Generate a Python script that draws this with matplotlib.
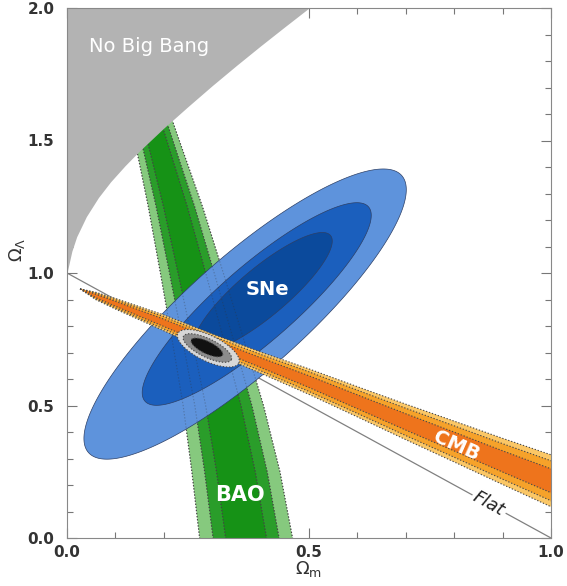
import numpy as np
import matplotlib
matplotlib.use("Agg")
import matplotlib.pyplot as plt
from matplotlib.ticker import MultipleLocator

# ---------------- data ----------------
# "No Big Bang" boundary (Omega_m, Omega_Lambda)
nbb_om = [0.0, 0.01, 0.02, 0.04, 0.065, 0.09, 0.12, 0.15, 0.20, 0.25, 0.30, 0.35, 0.40, 0.45, 0.50]
nbb_ol = [1.0, 1.082, 1.137, 1.213, 1.285, 1.344, 1.405, 1.461, 1.547, 1.628, 1.707, 1.783, 1.857, 1.929, 2.0]

# SNe confidence ellipses (outer 99.7%, 95%, 68%)
sne_cx = [0.368, 0.392, 0.405]
sne_cy = [0.845, 0.883, 0.928]
sne_a = [0.432, 0.306, 0.182]      # semi-major (in Omega_m units)
sne_b = [0.119, 0.0785, 0.0500]    # semi-minor (in Omega_m units)
sne_ang = [41.5, 41.0, 40.0]       # on-screen angle, degrees
sne_colors = ["#5e93dc", "#1b5fbd", "#0b4a9c"]

# BAO band: centre and half width (in Omega_m) as function of Omega_Lambda
bao_ol = [-0.05, 0.0, 0.25, 0.5, 0.75, 1.0, 1.25, 1.5, 1.8]
bao_center = [0.375, 0.370, 0.349, 0.323, 0.291, 0.258, 0.224, 0.186, 0.140]
bao_half = [0.097, 0.096, 0.091, 0.083, 0.074, 0.065, 0.056, 0.046, 0.035]
bao_levels = [1.0, 0.71, 0.44]
bao_colors = ["#86c97e", "#2a9d2a", "#169216"]

# CMB band: centre and half height (in Omega_Lambda) as function of Omega_m
cmb_om = [0.027, 0.06, 0.10, 0.20, 0.30, 0.40, 0.50, 0.60, 0.70, 0.80, 0.90, 1.00, 1.05]
cmb_center = [0.940, 0.913, 0.884, 0.812, 0.735, 0.662, 0.590, 0.514, 0.438, 0.364, 0.289, 0.216, 0.178]
cmb_half = [0.0, 0.014, 0.020, 0.030, 0.035, 0.040, 0.048, 0.057, 0.067, 0.077, 0.087, 0.098, 0.103]
cmb_levels = [1.0, 0.77, 0.46]
cmb_colors = ["#fbc766", "#f6a22a", "#ee741c"]

# Combined constraints (99.7%, 95%, 68%)
comb_cx = [0.292, 0.290, 0.289]
comb_cy = [0.716, 0.717, 0.719]
comb_a = [0.070, 0.055, 0.036]
comb_b = [0.0265, 0.019, 0.0125]
comb_ang = [-26.0, -26.0, -26.0]
comb_colors = ["#d8d8d8", "#8c8c8c", "#111111"]

# Flat universe line
flat_om = [0.0, 1.0]
flat_ol = [1.0, 0.0]

xticks = [0.0, 0.5, 1.0]
yticks = [0.0, 0.5, 1.0, 1.5, 2.0]

# ---------------- figure ----------------
W, H = 567, 586
fig = plt.figure(figsize=(W / 100, H / 100), dpi=100)
L, R, T, B = 67, 551, 8, 538
ax = fig.add_axes([L / W, 1 - B / H, (R - L) / W, (B - T) / H])
ax.set_xlim(0, 1)
ax.set_ylim(0, 2)

# ratio between on-screen size of one unit in x and y
K = ((R - L) / 1.0) / ((B - T) / 2.0)


def ellipse_xy(cx, cy, a, b, ang, n=400):
    t = np.linspace(0, 2 * np.pi, n)
    th = np.deg2rad(ang)
    dx = a * np.cos(th) * np.cos(t) - b * np.sin(th) * np.sin(t)
    dy = (a * np.sin(th) * np.cos(t) + b * np.cos(th) * np.sin(t)) * K
    return cx + dx, cy + dy


dotted = dict(color="#4a4a4a", lw=0.8, ls=(0, (1.2, 1.6)))

# flat line
ax.plot(flat_om, flat_ol, color="#808080", lw=0.9, zorder=1)
ax.text(0.872, 0.128, "Flat", rotation=-np.degrees(np.arctan(1 / K)),
        ha="center", va="center", fontsize=13, style="italic", color="#222222",
        zorder=1.5, bbox=dict(facecolor="white", edgecolor="none", pad=1.5))

# BAO
bol = np.array(bao_ol)
bc = np.array(bao_center)
bh = np.array(bao_half)
for f, c in zip(bao_levels, bao_colors):
    xs = np.concatenate([bc - bh * f, (bc + bh * f)[::-1]])
    ys = np.concatenate([bol, bol[::-1]])
    ax.fill(xs, ys, color=c, lw=0, zorder=2)
    ax.plot(bc - bh * f, bol, zorder=2.1, **dotted)
    ax.plot(bc + bh * f, bol, zorder=2.1, **dotted)

# SNe
for cx, cy, a, b, ang, c in zip(sne_cx, sne_cy, sne_a, sne_b, sne_ang, sne_colors):
    xs, ys = ellipse_xy(cx, cy, a, b, ang)
    ax.fill(xs, ys, facecolor=c, edgecolor="#2c3f66", lw=0.5, zorder=3)

# faint BAO edges seen through SNe
for f in bao_levels:
    for xe in (bc - bh * f, bc + bh * f):
        ax.plot(xe, bol, zorder=3.2, alpha=0.3, color="#333333", lw=0.8, ls=(0, (1.2, 1.6)))

# CMB
com = np.array(cmb_om)
cc = np.array(cmb_center)
ch = np.array(cmb_half)
for f, c in zip(cmb_levels, cmb_colors):
    xs = np.concatenate([com, com[::-1]])
    ys = np.concatenate([cc + ch * f, (cc - ch * f)[::-1]])
    ax.fill(xs, ys, color=c, lw=0, zorder=4)
    ax.plot(com, cc + ch * f, zorder=4.1, **dotted)
    ax.plot(com, cc - ch * f, zorder=4.1, **dotted)

# combined
for cx, cy, a, b, ang, c in zip(comb_cx, comb_cy, comb_a, comb_b, comb_ang, comb_colors):
    xs, ys = ellipse_xy(cx, cy, a, b, ang)
    ax.fill(xs, ys, color=c, lw=0, zorder=5)
    ax.plot(xs, ys, zorder=5.1, **dotted)

# No Big Bang region
ax.fill_between(nbb_om, nbb_ol, 2.0, color="#b3b3b3", lw=0, zorder=6)

# labels inside
ax.text(0.169, 1.853, "No Big Bang", color="white", fontsize=14, ha="center", va="center", zorder=7)
ax.text(0.415, 0.936, "SNe", color="white", fontsize=14, fontweight="bold", ha="center", va="center", zorder=7)
ax.text(0.357, 0.163, "BAO", color="white", fontsize=15, fontweight="bold", ha="center", va="center", zorder=7)
ax.text(0.805, 0.347, "CMB", color="white", fontsize=14, fontweight="bold", ha="center", va="center",
        rotation=-24, zorder=7)

# axes styling
ax.set_xticks(xticks)
ax.set_yticks(yticks)
ax.set_xticklabels([f"{v:.1f}" for v in xticks])
ax.set_yticklabels([f"{v:.1f}" for v in yticks])
ax.xaxis.set_minor_locator(MultipleLocator(0.1))
ax.yaxis.set_minor_locator(MultipleLocator(0.1))
ax.tick_params(which="both", direction="in", top=True, right=True, color="#777777", width=0.8)
ax.tick_params(which="major", length=7)
ax.tick_params(which="minor", length=4)
ax.tick_params(axis="x", pad=5)
ax.tick_params(axis="y", pad=9)
for lab in ax.get_xticklabels() + ax.get_yticklabels():
    lab.set_fontweight("bold")
    lab.set_fontsize(11)
    lab.set_color("#333333")
for s in ax.spines.values():
    s.set_color("#888888")
    s.set_linewidth(0.8)
    s.set_zorder(8)

fig.text(309 / W, 1 - 569 / H, r"$\Omega_{\rm m}$", fontsize=13, color="#333333",
         ha="center", va="center")
fig.text(17 / W, 1 - 250 / H, r"$\Omega_\Lambda$", fontsize=13, color="#333333",
         ha="center", va="center", rotation=90)

fig.savefig("out.png", dpi=100)
